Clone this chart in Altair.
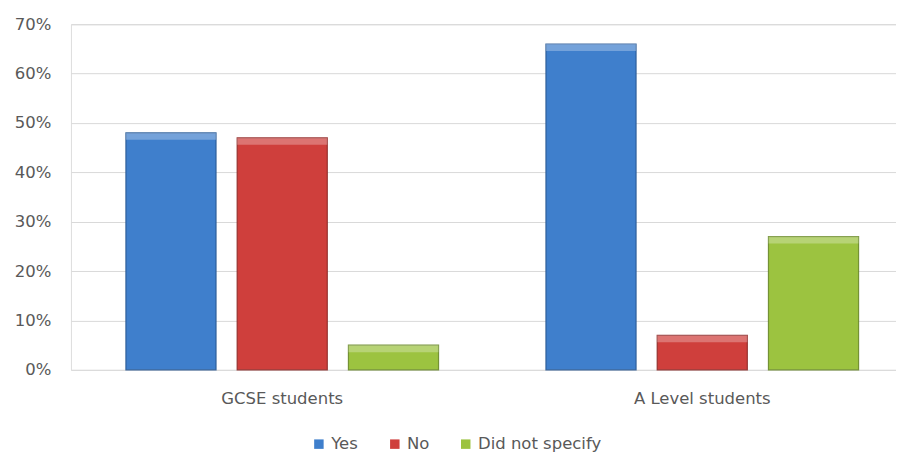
import altair as alt
import pandas as pd

groups = ["GCSE students", "A Level students"]
series = ["Yes", "No", "Did not specify"]
yes_vals = [0.48, 0.66]
no_vals = [0.47, 0.07]
dns_vals = [0.05, 0.27]
colors = ["#3F7FCC", "#CF3F3C", "#9CC340"]
strokes = ["#2A5A94", "#8E2A28", "#6A8A2A"]

rows = []
for i, g in enumerate(groups):
    for s, vals in zip(series, [yes_vals, no_vals, dns_vals]):
        rows.append({"group": g, "series": s, "value": vals[i]})
df = pd.DataFrame(rows)

FONT = "DejaVu Sans"
FS = 16.5

x_enc = alt.X("group:N", sort=groups, title=None,
              scale=alt.Scale(paddingInner=0.2557, paddingOuter=0.11, align=0.595),
              axis=alt.Axis(labelAngle=0, ticks=False, domain=False, grid=False,
                            labelFontSize=FS, labelColor="#595959", labelFont=FONT,
                            labelPadding=21))
xoff_enc = alt.XOffset("series:N", sort=series,
                       scale=alt.Scale(paddingInner=0.19, paddingOuter=0))

base = alt.Chart(df)

bars = base.mark_bar(strokeWidth=1.2, strokeOpacity=0.9).encode(
    x=x_enc,
    xOffset=xoff_enc,
    y=alt.Y("value:Q", title=None,
            scale=alt.Scale(domain=[0, 0.7]),
            axis=alt.Axis(format=".0%", values=[0, 0.1, 0.2, 0.3, 0.4, 0.5, 0.6, 0.7],
                          ticks=False, domain=False, gridColor="#D9D9D9",
                          labelFontSize=FS, labelColor="#595959", labelFont=FONT,
                          labelPadding=20)),
    color=alt.Color("series:N", sort=series,
                    scale=alt.Scale(domain=series, range=colors),
                    legend=alt.Legend(title=None, orient="none", direction="horizontal",
                                      legendX=240, legendY=412,
                                      symbolType="square", symbolSize=90,
                                      symbolStrokeWidth=0,
                                      labelFontSize=FS, labelColor="#595959",
                                      labelFont=FONT, columnPadding=28,
                                      labelOffset=4)),
    stroke=alt.Stroke("series:N", sort=series,
                      scale=alt.Scale(domain=series, range=strokes), legend=None),
)

highlight = base.mark_bar(color="white", opacity=0.28, y2Offset=7).encode(
    x=x_enc,
    xOffset=xoff_enc,
    y=alt.Y("value:Q"),
    y2=alt.Y2("value:Q"),
)

chart = alt.layer(bars, highlight).properties(
    width=826, height=346,
    padding={"left": 6, "top": 8, "right": 0, "bottom": 4},
).configure_view(stroke=None).configure(background="white")

chart.save("out.html", embed_options={"renderer": "svg", "actions": False})
